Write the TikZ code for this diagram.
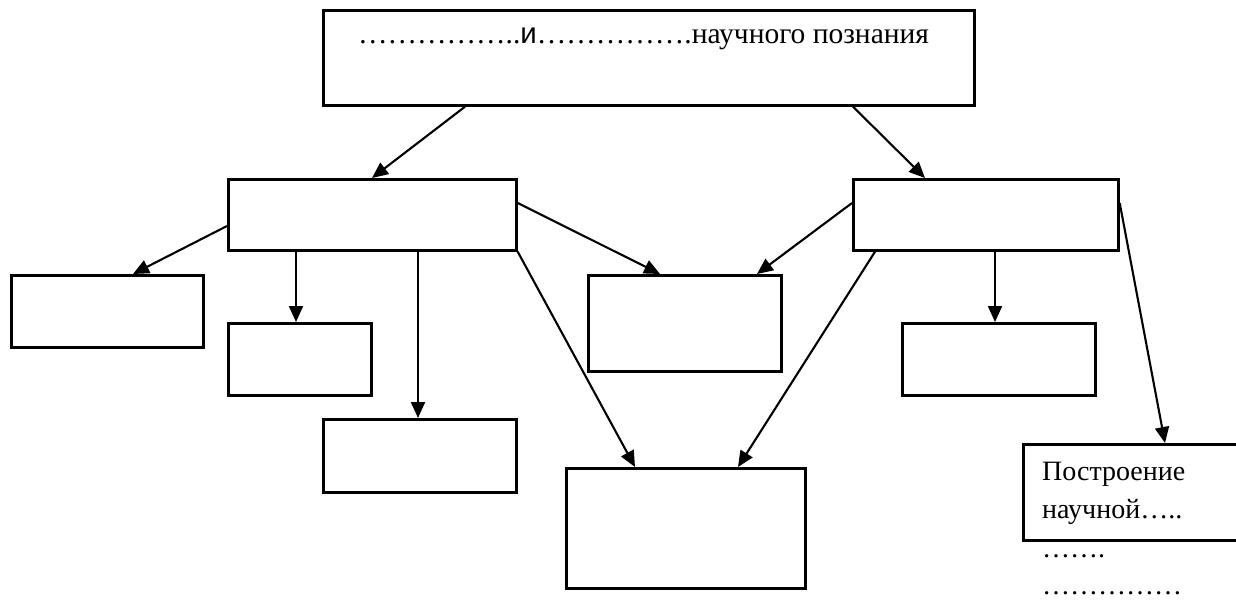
\documentclass[tikz,border=0pt]{standalone}
\usepackage{fontspec}
\setmainfont{Liberation Serif}
\newfontfamily\sansf{Liberation Sans}
\usetikzlibrary{arrows.meta}
\begin{document}
\begin{tikzpicture}[x=1pt,y=-1pt,
  box/.style={draw=black, line width=2.7pt, inner sep=0pt, anchor=north west, fill=white},
  arr/.style={draw=black, line width=2.1pt, -{Triangle[length=16pt,width=14pt]}},
  txt/.style={inner sep=0pt, anchor=base west, font=\fontsize{28}{38}\selectfont}]
\useasboundingbox (0,0) rectangle (1236,600);
\fill[white] (0,0) rectangle (1236,600);
% boxes
\node[box, minimum width=651pt, minimum height=95pt] (T) at (322,9) {};
\node[box, minimum width=288pt, minimum height=71pt] (A) at (227,178) {};
\node[box, minimum width=265pt, minimum height=71pt] (R) at (852,178) {};
\node[box, minimum width=192pt, minimum height=72pt] (L) at (10,274) {};
\node[box, minimum width=143pt, minimum height=72pt] (B) at (227,322) {};
\node[box, minimum width=193pt, minimum height=73pt] (C) at (322,418) {};
\node[box, minimum width=193pt, minimum height=96pt] (M) at (587,274) {};
\node[box, minimum width=239pt, minimum height=120pt] (Bot) at (565,467) {};
\node[box, minimum width=193pt, minimum height=72pt] (RB) at (901,322) {};
\node[box, minimum width=230pt, minimum height=96pt] (PB) at (1022,443) {};
% texts
\node[txt, font=\fontsize{29.5}{38}\selectfont] (title) at (358,43) {……………..{\sansf и}…………….научного познания};
\node[txt] (pb1) at (1042,480) {Построение};
\node[txt] (pb2) at (1042,518) {научной…..};
\node[txt] (pb3) at (1042,557) {…….};
\node[txt] (pb4) at (1042,594) {……………};
% arrows
\draw[arr] ([xshift=143pt]T.south west) -- ([xshift=145pt]A.north west);
\draw[arr] ([xshift=531pt]T.south west) -- ([xshift=73pt]R.north west);
\draw[arr] ([yshift=-48pt]A.north west) -- ([xshift=123pt]L.north west);
\draw[arr] ([xshift=69pt]A.south west) -- ([xshift=69pt]B.north west);
\draw[arr] ([xshift=191pt]A.south west) -- ([xshift=96pt]C.north west);
\draw[arr] ([yshift=-25pt]A.north east) -- ([xshift=73pt]M.north west);
\draw[arr] (A.south east) -- ([xshift=70pt]Bot.north west);
\draw[arr] ([yshift=-25pt]R.north west) -- ([xshift=170pt]M.north west);
\draw[arr] ([xshift=23pt]R.south west) -- ([xshift=173pt]Bot.north west);
\draw[arr] ([xshift=143pt]R.south west) -- ([xshift=94pt]RB.north west);
\draw[arr] ([yshift=-25pt]R.north east) -- ([xshift=143pt]PB.north west);
\end{tikzpicture}
\end{document}
